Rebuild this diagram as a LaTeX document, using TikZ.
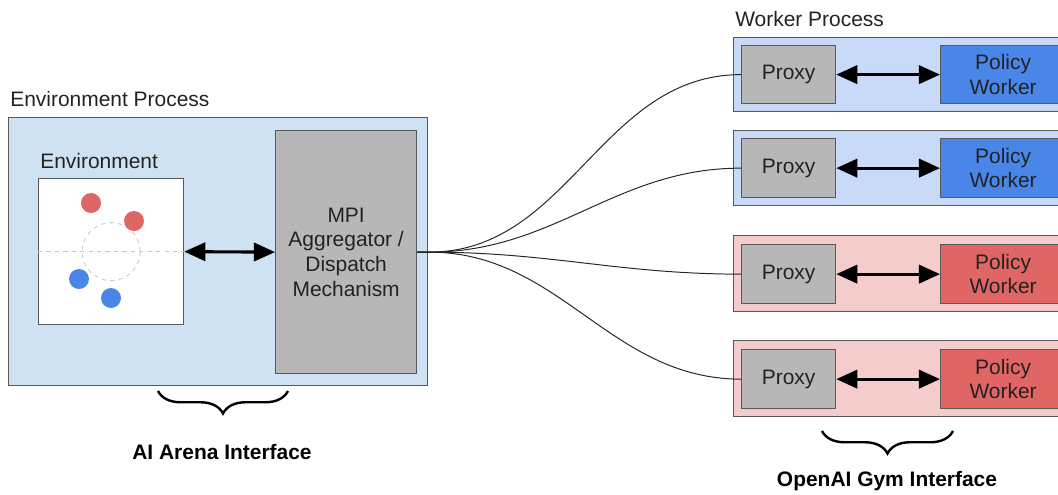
\documentclass[tikz,border=0pt]{standalone}
\usepackage{fontspec}
\setmainfont{Liberation Sans}
\usetikzlibrary{arrows.meta,decorations.pathreplacing}

\definecolor{envblue}{HTML}{CFE2F3}
\definecolor{wrkblue}{HTML}{C9DAF8}
\definecolor{wrkred}{HTML}{F4CCCC}
\definecolor{polblue}{HTML}{4A86E8}
\definecolor{polred}{HTML}{E06666}
\definecolor{proxygray}{HTML}{B7B7B7}
\definecolor{boxline}{HTML}{595959}
\definecolor{txt}{HTML}{222222}

\begin{document}
\begin{tikzpicture}[x=0.025cm, y=-0.025cm, font=\fontsize{14.9}{17.5}\selectfont, text=txt,
	box/.style={draw=boxline, line width=0.9pt, inner sep=0pt, anchor=north west, align=center},
	lbl/.style={anchor=west, inner sep=0pt},
	link/.style={{Triangle[length=15pt,width=13pt]}-{Triangle[length=15pt,width=13pt]}, line width=2.2pt, black},
	wire/.style={black!85, line width=0.7pt},
	dot/.style={circle, inner sep=0pt, minimum size=20*0.025cm},
	guide/.style={black!22, dashed, line width=0.6pt},
	curly/.style={decorate, decoration={brace, mirror, amplitude=16pt}, line width=1.7pt, black}]
	\useasboundingbox (0,0) rectangle (1058,494);

	% Environment process
	\node [lbl] (envlbl) at (10,99) {Environment Process};
	\node [box, fill=envblue, minimum width=419*0.025cm, minimum height=268*0.025cm] (envproc) at (8,117) {};
	\node [lbl] (envname) at (40,161) {Environment};
	\node [box, fill=white, minimum width=145*0.025cm, minimum height=146*0.025cm] (env) at (38,178) {};
	\node [box, fill=proxygray, minimum width=141*0.025cm, minimum height=243*0.025cm] (mpi) at (275,130)
		{MPI\\Aggregator /\\Dispatch\\Mechanism};

	% Scene inside the environment
	\draw [guide] (env.west) -- (env.east);
	\draw [guide] (env.center) circle [radius=29];
	\node [dot, fill=polred]  (red1)  at (91,203)  {};
	\node [dot, fill=polred]  (red2)  at (134,221) {};
	\node [dot, fill=polblue] (blue1) at (79,279)  {};
	\node [dot, fill=polblue] (blue2) at (111,298) {};

	% Worker processes
	\node [lbl] (wrklbl) at (735,19) {Worker Process};
	\node [box, fill=wrkblue, minimum width=332*0.025cm, minimum height=74*0.025cm] (w1) at (733,37)  {};
	\node [box, fill=wrkblue, minimum width=332*0.025cm, minimum height=75*0.025cm] (w2) at (733,130) {};
	\node [box, fill=wrkred,  minimum width=332*0.025cm, minimum height=76*0.025cm] (w3) at (733,235) {};
	\node [box, fill=wrkred,  minimum width=332*0.025cm, minimum height=76*0.025cm] (w4) at (733,340) {};

	\node [box, fill=proxygray, minimum width=94*0.025cm, minimum height=58*0.025cm] (p1) at (741,45)  {\strut Proxy};
	\node [box, fill=proxygray, minimum width=94*0.025cm, minimum height=59*0.025cm] (p2) at (741,138) {\strut Proxy};
	\node [box, fill=proxygray, minimum width=94*0.025cm, minimum height=59*0.025cm] (p3) at (741,244) {\strut Proxy};
	\node [box, fill=proxygray, minimum width=94*0.025cm, minimum height=59*0.025cm] (p4) at (741,349) {\strut Proxy};

	\node [box, fill=polblue, minimum width=125*0.025cm, minimum height=58*0.025cm] (pw1) at (940,45)  {Policy\\Worker};
	\node [box, fill=polblue, minimum width=125*0.025cm, minimum height=59*0.025cm] (pw2) at (940,138) {Policy\\Worker};
	\node [box, fill=polred,  minimum width=125*0.025cm, minimum height=59*0.025cm] (pw3) at (940,244) {Policy\\Worker};
	\node [box, fill=polred,  minimum width=125*0.025cm, minimum height=59*0.025cm] (pw4) at (940,349) {Policy\\Worker};

	% Paths
	\draw [link] (env.east) -- (mpi.west);
	\foreach \i in {1,...,4} {
		\draw [link] (p\i.east) -- (pw\i.west);
		\draw [wire] (mpi.east) -- ++(12,0) to [out=0, in=180] (p\i.west);
	}

	% Interfaces
	\coordinate (aiL) at (158,391);
	\coordinate (aiR) at (288,391);
	\draw [curly] (aiL) -- (aiR);
	\node [font=\fontsize{14.9}{17.5}\selectfont\bfseries, text=black] (ailbl) at (222,452) {AI Arena Interface};

	\coordinate (gymL) at (822,431);
	\coordinate (gymR) at (953,431);
	\draw [curly] (gymL) -- (gymR);
	\node [font=\fontsize{14.9}{17.5}\selectfont\bfseries, text=black] (gymlbl) at (887,481) {OpenAI Gym Interface};
\end{tikzpicture}
\end{document}
